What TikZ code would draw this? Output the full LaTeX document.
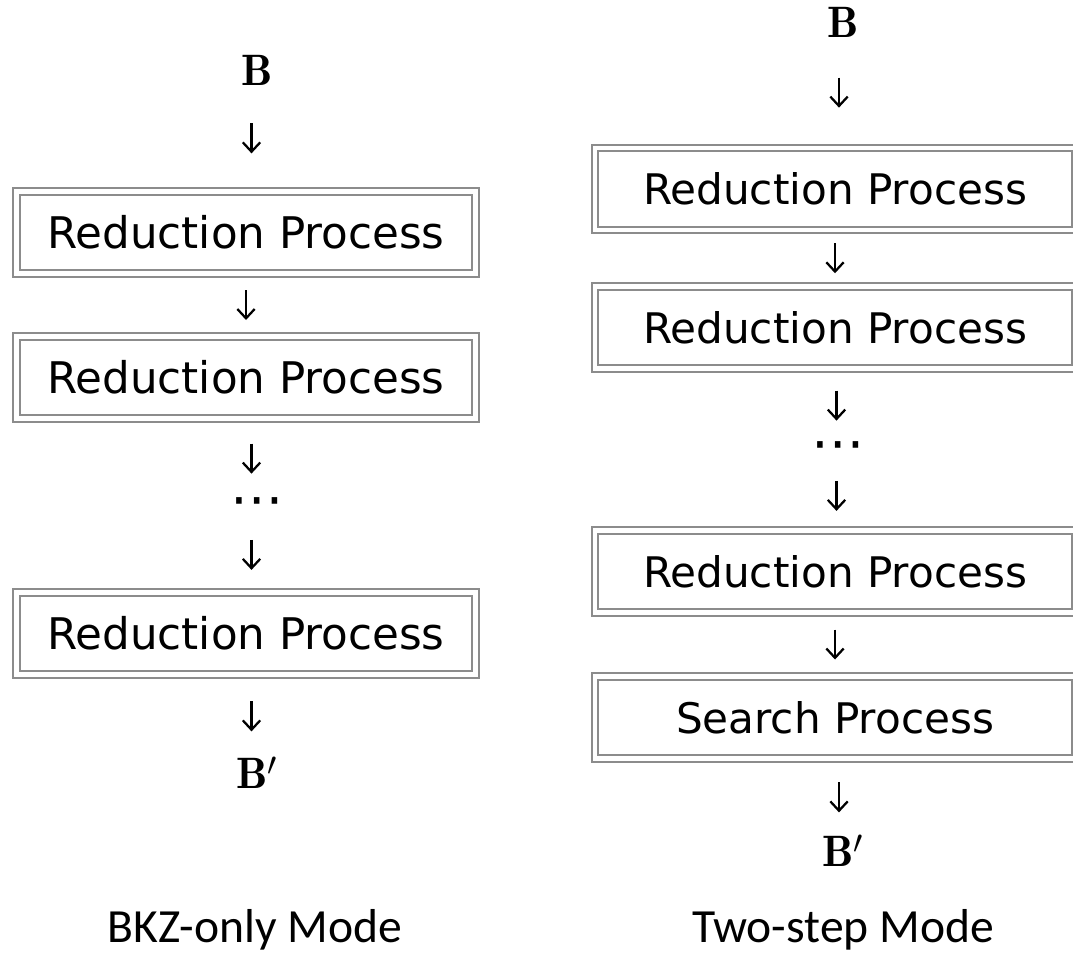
\documentclass[tikz,border=0pt]{standalone}
\usepackage{fontspec}
\usepackage{amsmath}
\usetikzlibrary{arrows.meta,calc}
\newfontfamily\boxfont{DejaVu Sans}
\newfontfamily\capfont{Carlito}

\begin{document}
\begin{tikzpicture}[x=0.75pt,y=-0.75pt]
        \tikzstyle{proc}=[rectangle, draw=black!45, double=white, double distance=3.4pt, line width=1.5pt, minimum height=61.5pt, inner sep=0pt]
        \tikzstyle{lproc}=[proc, minimum width=344pt, font=\boxfont\fontsize{32.7}{33}\selectfont]
        \tikzstyle{rproc}=[proc, minimum width=360pt, font=\boxfont\fontsize{31.6}{32}\selectfont]
        \tikzstyle{vec}=[inner sep=0pt, anchor=base, font=\fontsize{33}{33}\selectfont]
        \tikzstyle{dots}=[inner sep=0pt, minimum height=15pt, font=\boxfont\fontsize{40}{40}\selectfont]
        \tikzstyle{mode}=[inner sep=0pt, anchor=base, font=\capfont\fontsize{35.7}{36}\selectfont]
        \tikzstyle{connect}=[-{Straight Barb[length=7pt,width=13pt]}, line width=1.7pt,
          to path={($(\tikztostart)!.5!(\tikztotarget)$) ++(0,-15) -- ++(0,30)}]
        \useasboundingbox (0,0) rectangle (1073,952);
        % BKZ-only mode
        \node[vec] (b1) at (257,86) {$\mathbf{B}$};
        \node[lproc] (r11) at (246,232.5) {Reduction Process};
        \node[lproc] (r12) at (246,377.5) {Reduction Process};
        \node[dots] (d1) at (257,508) {⋯};
        \node[lproc] (r13) at (246,633.5) {Reduction Process};
        \node[vec] (bp1) at (257,788) {$\mathbf{B}'$};
        \node[mode] (m1) at (255,942) {BKZ-only Mode};
        % two-step mode
        \node[vec] (b2) at (843,38) {$\mathbf{B}$};
        \node[rproc] (r21) at (835,189) {Reduction Process};
        \node[rproc] (r22) at (835,327.5) {Reduction Process};
        \node[dots] (d2) at (838,452) {⋯};
        \node[rproc] (r23) at (835,571.5) {Reduction Process};
        \node[rproc] (s2) at (835,717.5) {Search Process};
        \node[vec] (bp2) at (843,866) {$\mathbf{B}'$};
        \node[mode] (m2) at (843,942) {Two-step Mode};
        \path (b1.south) edge [connect] (r11.north)
        (r11.south) edge [connect] (r12.north)
        (r12.south) edge [connect] (d1.north)
        (d1.south) edge [connect] (r13.north)
        (r13.south) edge [connect] (bp1.north)
        (b2.south) edge [connect] (r21.north)
        (r21.south) edge [connect] (r22.north)
        (r22.south) edge [connect] (d2.north)
        (d2.south) edge [connect] (r23.north)
        (r23.south) edge [connect] (s2.north)
        (s2.south) edge [connect] (bp2.north);
\end{tikzpicture}
\end{document}
